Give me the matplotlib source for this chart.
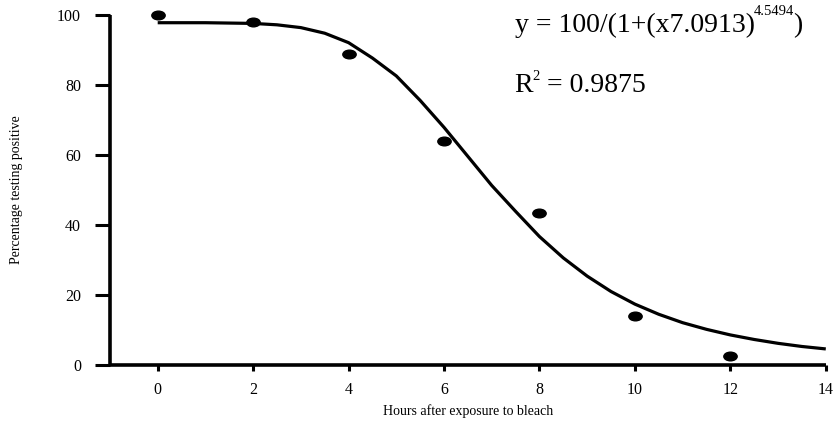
#!/usr/bin/env python

import matplotlib
matplotlib.use("Agg")
import matplotlib.pyplot as plt
from matplotlib.path import Path
from matplotlib.transforms import Affine2D


# Measured percentages (dots):
HOURS = [0, 2, 4, 6, 8, 10, 12]
PCT_POSITIVE = [100.0, 97.8, 88.8, 63.9, 43.3, 13.8, 2.4]

# Fitted curve, every half hour:
CURVE_HOURS = [0, 0.5, 1, 1.5, 2, 2.5, 3, 3.5, 4, 4.5, 5, 5.5, 6, 6.5, 7,
               7.5, 8, 8.5, 9, 9.5, 10, 10.5, 11, 11.5, 12, 12.5, 13, 13.5, 14]
CURVE_PCT = [97.7, 97.7, 97.7, 97.6, 97.5, 97.1, 96.3, 94.7, 92.0, 87.6, 82.5,
             75.5, 67.8, 59.5, 51.2, 43.8, 36.6, 30.5, 25.3, 20.9, 17.3, 14.4,
             12.0, 10.1, 8.5, 7.2, 6.1, 5.2, 4.5]

X_TICKS = [0, 2, 4, 6, 8, 10, 12, 14]
Y_TICKS = [0, 20, 40, 60, 80, 100]

EQUATION = "y = 100/(1+(x7.0913)"
EQUATION_EXP = "4.5494"
R_SQUARED = "0.9875"

FONT = "Liberation Serif"


def main():
    plt.rcParams["font.family"] = FONT

    fig = plt.figure(figsize=(8.37, 4.30), dpi=100)
    ax = fig.add_axes([0.1314, 0.1519, 0.8552, 0.814])

    # the curve first, dots on top
    ax.plot(CURVE_HOURS, CURVE_PCT, color="black", lw=2.3,
            solid_capstyle="butt", zorder=2)

    # dots are a bit wider than tall
    ellipse = Path.unit_circle().transformed(Affine2D().scale(1.0, 0.65))
    ax.plot(HOURS, PCT_POSITIVE, linestyle="none", marker=ellipse,
            markersize=9.6, color="black", zorder=3, clip_on=False)

    ax.set_xlim(-1, 14)
    ax.set_ylim(0, 100)

    for side in ["top", "right"]:
        ax.spines[side].set_visible(False)
    for side in ["left", "bottom"]:
        ax.spines[side].set_linewidth(2.6)
        ax.spines[side].set_capstyle("butt")

    ax.set_xticks(X_TICKS)
    ax.set_xticklabels([str(x) for x in X_TICKS])
    ax.set_yticks(Y_TICKS)
    ax.set_yticklabels([str(y) for y in Y_TICKS])
    ax.tick_params(axis="y", direction="out", length=10.8, width=2.2,
                   labelsize=11.5, pad=10)
    ax.tick_params(axis="x", direction="out", length=4.3, width=2.2,
                   labelsize=11.5, pad=8)

    ax.set_xlabel("Hours after exposure to bleach", fontsize=10, labelpad=5)
    ax.set_ylabel("Percentage testing positive", fontsize=10)
    ax.yaxis.set_label_coords(-0.1215, 0.5)

    # Equation and R squared, superscripts done by hand
    eq = ax.text(7.48, 95.1, EQUATION, fontsize=20, va="baseline",
                 ha="left")
    exp = ax.annotate(EQUATION_EXP, xy=(1, 99.9), xycoords=(eq, "data"),
                      xytext=(-0.5, 0), textcoords="offset points",
                      fontsize=10.5, va="baseline", ha="left",
                      annotation_clip=False)
    ax.annotate(")", xy=(1, 95.1), xycoords=(exp, "data"),
                xytext=(-0.5, 0), textcoords="offset points",
                fontsize=20, va="baseline", ha="left",
                annotation_clip=False)

    r = ax.text(7.48, 77.9, "R", fontsize=20, va="baseline", ha="left")
    two = ax.annotate("2", xy=(1, 81.3), xycoords=(r, "data"),
                      xytext=(-0.5, 0), textcoords="offset points",
                      fontsize=10.5, va="baseline", ha="left",
                      annotation_clip=False)
    ax.annotate(" = " + R_SQUARED, xy=(1, 77.9), xycoords=(two, "data"),
                fontsize=20, va="baseline", ha="left",
                annotation_clip=False)

    fig.savefig("out.png", dpi=100)
    plt.close(fig)


if __name__ == "__main__":
    main()
